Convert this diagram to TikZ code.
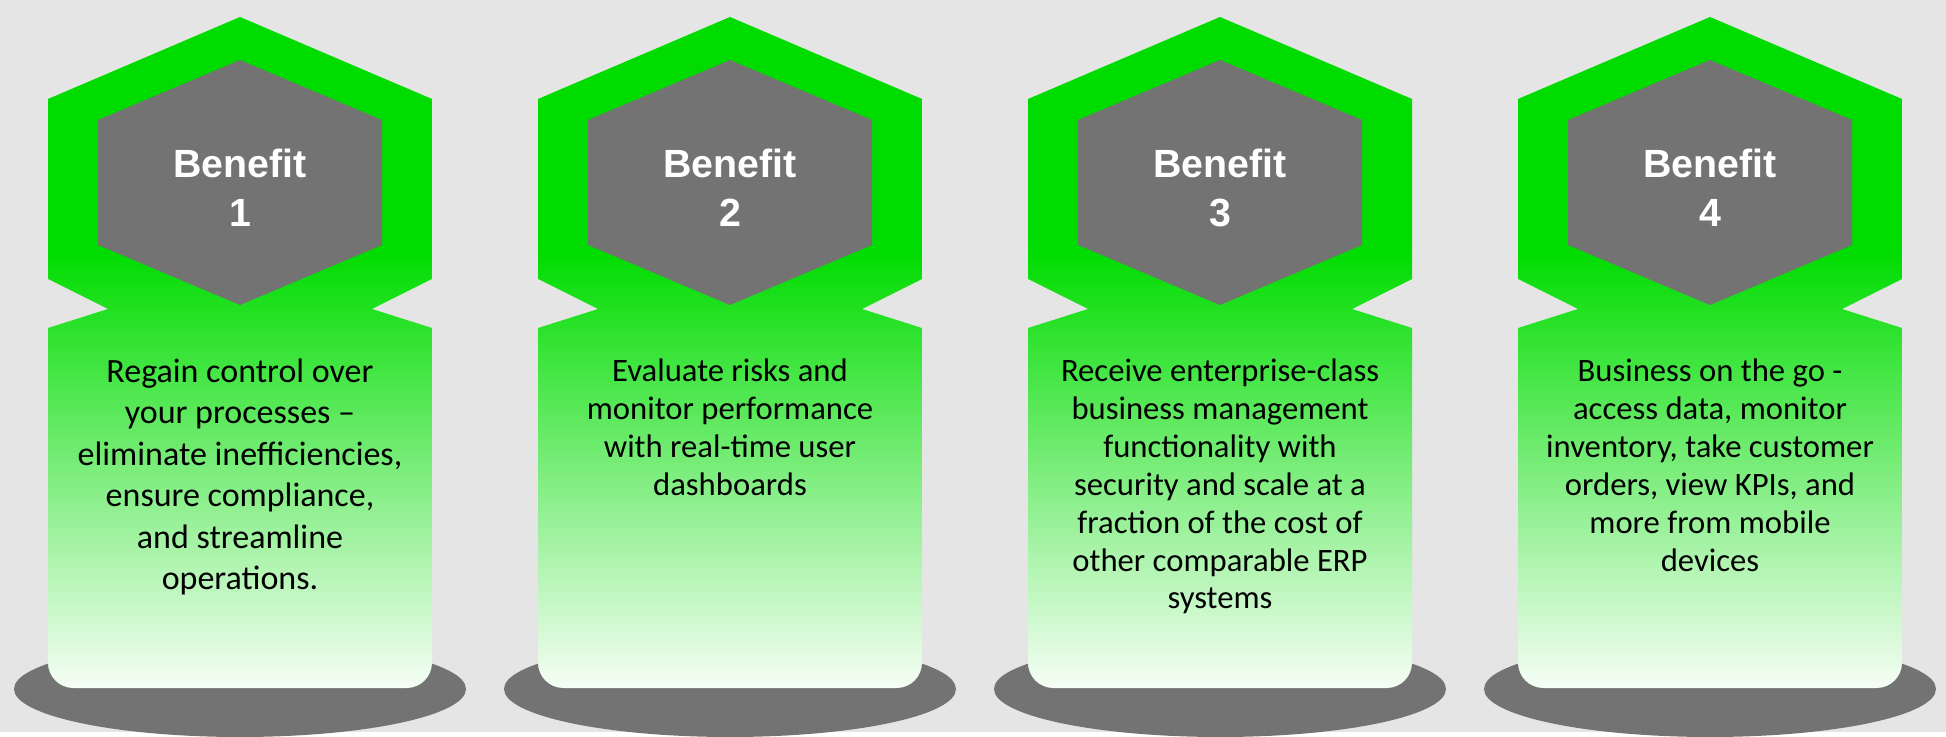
\documentclass[tikz,border=0pt]{standalone}
\usepackage{fontspec}
\setmainfont{Carlito}
\newfontfamily\headfont{Liberation Sans}

\definecolor{bgreen}{RGB}{0,220,0}
\definecolor{gwhite}{RGB}{246,254,246}
\definecolor{hexgray}{RGB}{115,115,115}
\definecolor{backgray}{RGB}{229,229,229}

\pgfdeclareverticalshading{benefitfade}{100bp}{color(0bp)=(gwhite); color(25bp)=(gwhite); color(57.6bp)=(bgreen); color(100bp)=(bgreen)}

\tikzset{
	hexhead/.style={font=\headfont\bfseries\fontsize{29.5}{36.75}\selectfont, text=white, align=center, inner sep=0pt},
	benefittext/.style={font=\fontsize{24.5}{28.4}\selectfont, align=center, inner sep=0pt, anchor=base},
}

\begin{document}
\begin{tikzpicture}[x=0.75pt,y=-0.75pt]
	% background
	\fill[backgray] (0,0) rectangle (1946,732);

	% pillars
	\foreach \i in {0,...,3}{
		\pgfmathsetmacro{\cx}{240+490*\i}
		\fill[hexgray] (\cx,689) ellipse [x radius=226, y radius=48];
		\shade[shading=benefitfade] (\cx,17) -- (\cx+192,99) -- (\cx+192,279) -- (\cx+132,309) -- (\cx+192,328) [rounded corners=19pt] -- (\cx+192,688) -- (\cx-192,688) [sharp corners] -- (\cx-192,328) -- (\cx-132,309) -- (\cx-192,279) -- (\cx-192,99) -- cycle;
		\fill[hexgray] (\cx,60) -- (\cx+142,120) -- (\cx+142,245) -- (\cx,305) -- (\cx-142,245) -- (\cx-142,120) -- cycle;
	}

	% headings
	\node[hexhead] (head1) at (240,188) {Benefit\\1};
	\node[hexhead] (head2) at (730,188) {Benefit\\2};
	\node[hexhead] (head3) at (1220,188) {Benefit\\3};
	\node[hexhead] (head4) at (1710,188) {Benefit\\4};

	% texts (anchored at the last baseline)
	\node[benefittext, font=\fontsize{25.5}{31.1}\selectfont] (text1) at (240,589.5) {Regain control over\\your processes –\\eliminate inefficiencies,\\ensure compliance,\\and streamline\\operations.};
	\node[benefittext] (text2) at (730,495.6) {Evaluate risks and\\monitor performance\\with real-time user\\dashboards};
	\node[benefittext] (text3) at (1220,609) {Receive enterprise-class\\business management\\functionality with\\security and scale at a\\fraction of the cost of\\other comparable ERP\\systems};
	\node[benefittext] (text4) at (1710,571) {Business on the go -\\access data, monitor\\inventory, take customer\\orders, view KPIs, and\\more from mobile\\devices};
\end{tikzpicture}
\end{document}
